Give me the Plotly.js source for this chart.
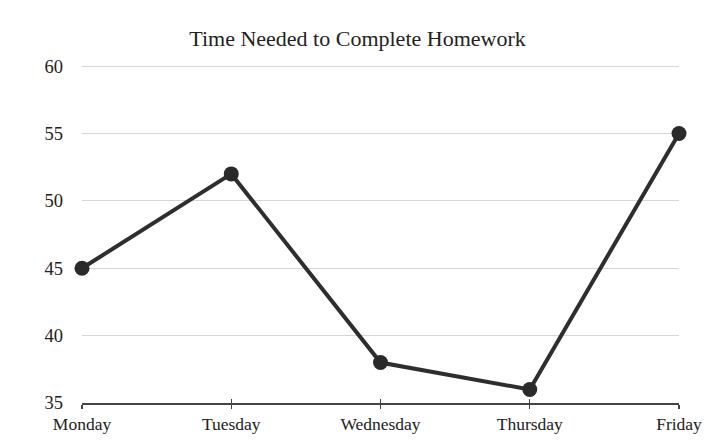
<!DOCTYPE html>
<html>
<head>
<meta charset="utf-8">
<script src="https://cdn.plot.ly/plotly-3.0.1.min.js"></script>
<style>html,body{margin:0;padding:0;background:#fff;}#chart{width:715px;height:445px;}</style>
</head>
<body>
<div id="chart"></div>
<script>
const days = ["Monday", "Tuesday", "Wednesday", "Thursday", "Friday"];
const minutes = [45, 52, 38, 36, 55];
const yTicks = [35, 40, 45, 50, 55, 60];

const serif = "Liberation Serif, Times New Roman, serif";

const trace = {
  x: days,
  y: minutes,
  type: "scatter",
  mode: "lines+markers",
  line: {color: "#2e2e2e", width: 4},
  marker: {color: "#2a2a2a", size: 15},
  cliponaxis: false,
  hoverinfo: "skip"
};

const helper = {
  x: days, y: minutes, xaxis: "x2", yaxis: "y", type: "scatter", mode: "markers",
  marker: {opacity: 0, size: 1},
  hoverinfo: "skip", showlegend: false
};

const layout = {
  width: 715,
  height: 445,
  margin: {l: 82, r: 36, t: 65, b: 42},
  paper_bgcolor: "#fff",
  plot_bgcolor: "#fff",
  showlegend: false,
  title: {
    text: "Time Needed to Complete Homework",
    font: {family: serif, size: 22, color: "#222"},
    x: 0.5, xanchor: "center", y: 0.915, yanchor: "middle"
  },
  xaxis: {
    type: "category",
    categoryarray: days,
    range: [0, 4],
    showgrid: false,
    zeroline: false,
    showline: true,
    linecolor: "#444",
    linewidth: 1.5,
    ticks: "outside",
    ticklen: 4,
    tickwidth: 1.2,
    tickcolor: "#444",
    tickfont: {family: serif, size: 17.5, color: "#222"},
    fixedrange: true
  },
  xaxis2: {
    type: "category",
    categoryarray: days,
    overlaying: "x",
    range: [0, 4],
    showgrid: false,
    zeroline: false,
    showline: false,
    ticks: "inside",
    ticklen: 4,
    tickwidth: 1.2,
    tickcolor: "#444",
    showticklabels: false,
    side: "bottom",
    anchor: "y"
  },
  yaxis: {
    range: [35, 60.08],
    tickvals: yTicks,
    ticktext: yTicks.map(String),
    showgrid: true,
    gridcolor: "#d6d6d6",
    gridwidth: 1,
    zeroline: false,
    showline: false,
    ticks: "",
    ticklabelstandoff: 18,
    tickfont: {family: serif, size: 18.5, color: "#222"},
    fixedrange: true
  }
};

Plotly.newPlot("chart", [helper, trace], layout, {displayModeBar: false, staticPlot: true});
</script>
</body>
</html>
